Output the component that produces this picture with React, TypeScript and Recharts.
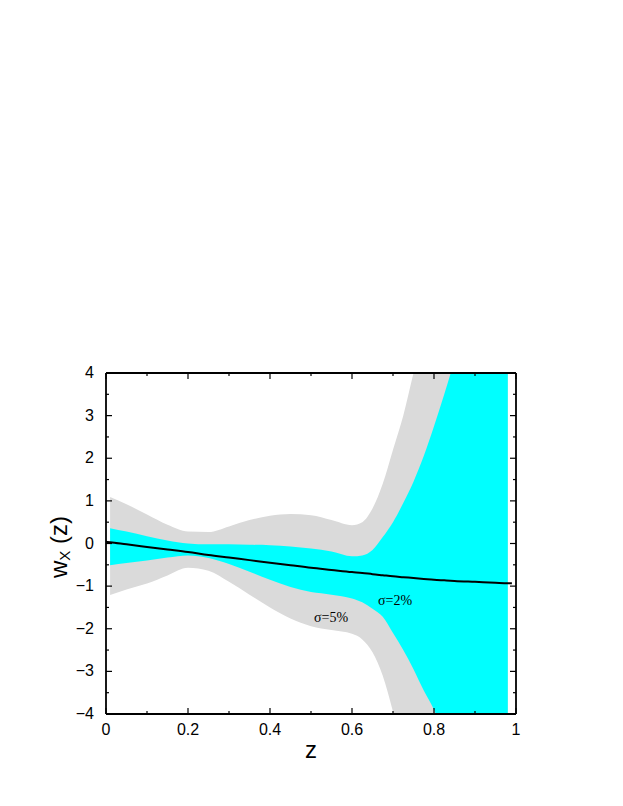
import { ComposedChart, Area, Line, XAxis, YAxis, ReferenceDot } from 'recharts';

// redshift grid
const zs = [0, 0.01, 0.05, 0.1, 0.15, 0.2, 0.25, 0.3, 0.35, 0.4, 0.45, 0.5, 0.55, 0.6, 0.625, 0.65, 0.675, 0.7, 0.725, 0.75, 0.775, 0.8, 0.825, 0.85, 0.9, 0.95, 0.98, 0.99];

// reconstructed w_X(z)
const wFit = [0.04, 0.03, -0.02, -0.08, -0.14, -0.2, -0.27, -0.33, -0.39, -0.45, -0.51, -0.57, -0.62, -0.67, -0.69, -0.72, -0.745, -0.77, -0.79, -0.81, -0.83, -0.85, -0.865, -0.88, -0.9, -0.92, -0.93, -0.93];

// sigma = 5% band (null where no band)
const s5Low = [null, -1.21, -1.08, -0.94, -0.75, -0.57, -0.64, -0.9, -1.2, -1.5, -1.76, -1.94, -2.03, -2.12, -2.25, -2.55, -3.1, -3.95, -5, -6, -7, -8, -9, -10, -11, -12, -12, null];
const s5High = [null, 1.09, 0.92, 0.68, 0.44, 0.28, 0.27, 0.4, 0.55, 0.65, 0.69, 0.66, 0.55, 0.43, 0.5, 0.82, 1.4, 2.2, 3.0, 4.0, 5, 6, 7, 8, 10, 11, 12, null];

// sigma = 2% band
const s2Low = [null, -0.51, -0.46, -0.4, -0.33, -0.28, -0.34, -0.48, -0.66, -0.85, -1.02, -1.14, -1.2, -1.29, -1.38, -1.53, -1.72, -2.1, -2.5, -2.95, -3.45, -3.9, -4.5, -5.1, -6.5, -8, -9, null];
const s2High = [null, 0.36, 0.28, 0.17, 0.07, 0.0, -0.02, -0.02, -0.03, -0.04, -0.07, -0.12, -0.19, -0.3, -0.28, -0.15, 0.15, 0.5, 0.95, 1.45, 2.05, 2.75, 3.5, 4.3, 6, 8, 9, null];

const xTicks = [0, 0.1, 0.2, 0.3, 0.4, 0.5, 0.6, 0.7, 0.8, 0.9, 1];
const yTicks = [-4, -3.5, -3, -2.5, -2, -1.5, -1, -0.5, 0, 0.5, 1, 1.5, 2, 2.5, 3, 3.5, 4];

const data = zs.map((z, i) => ({
  z,
  w: wFit[i],
  s5: s5Low[i] == null ? null : [s5Low[i], s5High[i]],
  s2: s2Low[i] == null ? null : [s2Low[i], s2High[i]],
}));

const sans = '"Liberation Sans", Arial, Helvetica, sans-serif';
const serif = '"Liberation Serif", "Times New Roman", serif';

const isMajorX = (v: number) => Math.abs(v * 5 - Math.round(v * 5)) < 1e-6;
const isMajorY = (v: number) => Math.abs(v - Math.round(v)) < 1e-6;
const fmtY = (v: number) => (v < 0 ? `\u2212${Math.abs(v)}` : `${v}`);

const makeTick = (side: 'bottom' | 'top' | 'left' | 'right') => (props: any) => {
  const { x, y, payload } = props;
  const v = payload.value as number;
  const major = side === 'bottom' || side === 'top' ? isMajorX(v) : isMajorY(v);
  const len = major ? 6 : 3;
  let line;
  if (side === 'bottom') line = <line x1={x} y1={y} x2={x} y2={y - len} stroke="#000" strokeWidth={1.2} />;
  else if (side === 'top') line = <line x1={x} y1={y} x2={x} y2={y + len} stroke="#000" strokeWidth={1.2} />;
  else if (side === 'left') line = <line x1={x} y1={y} x2={x + len} y2={y} stroke="#000" strokeWidth={1.2} />;
  else line = <line x1={x} y1={y} x2={x - len} y2={y} stroke="#000" strokeWidth={1.2} />;
  let label = null;
  if (major && side === 'bottom') {
    label = (
      <text x={x} y={y + 21} textAnchor="middle" fontFamily={sans} fontSize={16} fill="#000">
        {String(v)}
      </text>
    );
  } else if (major && side === 'left') {
    label = (
      <text x={x - 12} y={y + 5} textAnchor="end" fontFamily={sans} fontSize={16} fill="#000">
        {fmtY(v)}
      </text>
    );
  }
  return (
    <g>
      {line}
      {label}
    </g>
  );
};

const SigmaLabel = (text: string) => (props: any) => (
  <text x={props.cx} y={props.cy + 5} textAnchor="middle" fontFamily={serif} fontSize={14} fill="#000">
    {text}
  </text>
);

export default function App() {
  return (
    <div style={{ width: 615, height: 790, position: 'relative' }}>
      <ComposedChart
        width={615}
        height={790}
        data={data}
        margin={{ top: 355, left: 58, right: 97, bottom: 54 }}
      >
        <XAxis
          dataKey="z"
          type="number"
          domain={[0, 1]}
          ticks={xTicks}
          interval={0}
          allowDataOverflow
          height={30}
          tickSize={0}
          tickMargin={0}
          tickLine={false}
          axisLine={{ stroke: '#000', strokeWidth: 1.8 }}
          tick={makeTick('bottom')}
        />
        <XAxis
          xAxisId="top"
          dataKey="z"
          orientation="top"
          type="number"
          domain={[0, 1]}
          ticks={xTicks}
          interval={0}
          allowDataOverflow
          height={10}
          tickSize={0}
          tickMargin={0}
          tickLine={false}
          axisLine={{ stroke: '#000', strokeWidth: 1.8 }}
          tick={makeTick('top')}
        />
        <YAxis
          type="number"
          domain={[-4, 4]}
          ticks={yTicks}
          interval={0}
          allowDataOverflow
          width={40}
          tickSize={0}
          tickMargin={0}
          tickLine={false}
          axisLine={{ stroke: '#000', strokeWidth: 1.8 }}
          tick={makeTick('left')}
        />
        <YAxis
          yAxisId="right"
          orientation="right"
          type="number"
          domain={[-4, 4]}
          ticks={yTicks}
          interval={0}
          allowDataOverflow
          width={10}
          tickSize={0}
          tickMargin={0}
          tickLine={false}
          axisLine={{ stroke: '#000', strokeWidth: 1.8 }}
          tick={makeTick('right')}
        />
        <Area
          dataKey="s5"
          type="monotone"
          fill="#dadada"
          fillOpacity={1}
          stroke="none"
          isAnimationActive={false}
        />
        <Area
          dataKey="s2"
          type="monotone"
          fill="#00ffff"
          fillOpacity={1}
          stroke="none"
          isAnimationActive={false}
        />
        <Line
          dataKey="w"
          type="monotone"
          stroke="#000"
          strokeWidth={2}
          dot={false}
          isAnimationActive={false}
        />
        <ReferenceDot x={0.549} y={-1.73} r={0} shape={SigmaLabel('σ=5%')} />
        <ReferenceDot x={0.705} y={-1.33} r={0} shape={SigmaLabel('σ=2%')} />
      </ComposedChart>
      <svg width={615} height={790} style={{ position: 'absolute', left: 0, top: 0, pointerEvents: 'none' }}>
        <text
          x={59}
          y={539}
          transform="rotate(-90, 59, 539)"
          textAnchor="middle"
          fontFamily={sans}
          fontSize={24}
          fill="#000"
        >
          w
          <tspan fontSize={15} dy={3}>X</tspan>
          <tspan dy={-3}> (z)</tspan>
        </text>
        <text x={303} y={750} textAnchor="middle" fontFamily={sans} fontSize={24} fill="#000">
          z
        </text>
      </svg>
    </div>
  );
}
